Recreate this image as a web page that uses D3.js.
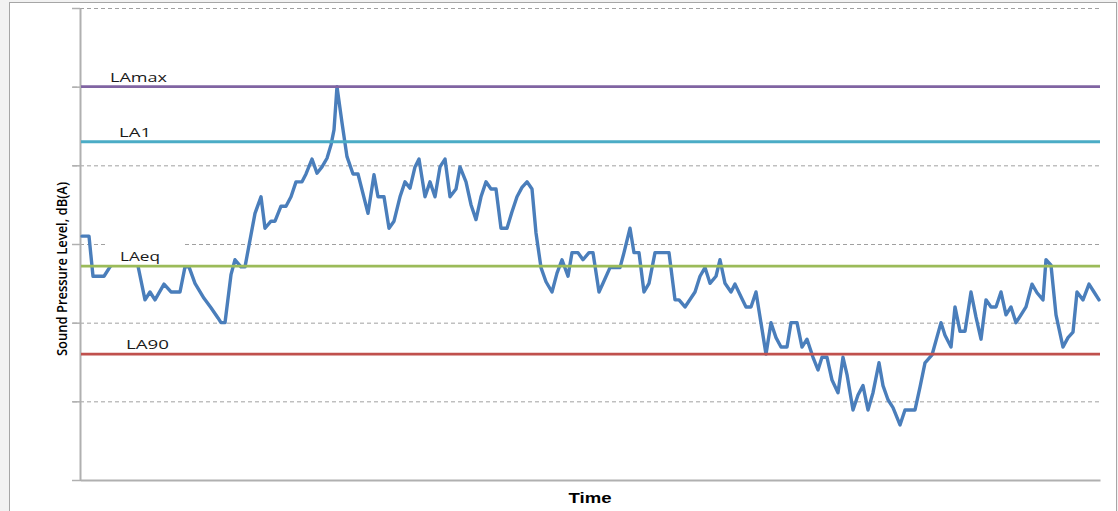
<!DOCTYPE html>
<html>
<head>
<meta charset="utf-8">
<script src="https://cdn.jsdelivr.net/npm/d3@7"></script>
<style>
	body { margin: 0; background: #f2f2f2; }
	svg { display: block; }
</style>
</head>
<body>
<div id="viz"></div>
<script>
// time is in samples, level in dB(A)
const times = [0, 1.4, 2.2, 4.4, 5.6, 8.4, 11.2, 12.6, 13.6, 14.6, 16.4, 17.8, 19.6, 20.6, 21.4, 22.6, 24.4, 25.8, 27.2, 27.8,
	28.6, 29.8, 30.6, 31.8, 32.6, 34.6, 35.8, 36.6, 37.8, 38.6, 39.8, 40.8, 41.8, 42.8, 44.0, 44.8, 46.0, 47.0, 48.0, 49.0,
	49.8, 50.4, 51.0, 52.0, 53.0, 54.2, 55.2, 57.2, 58.4, 59.2, 60.4, 61.4, 62.4, 63.6, 64.6, 65.6, 66.6, 67.4, 68.6, 69.6,
	70.6, 71.6, 72.6, 73.6, 74.8, 75.6, 76.8, 77.8, 78.8, 79.8, 80.8, 81.8, 82.8, 83.8, 85.0, 86.0, 87.0, 88.0, 89.0, 90.0,
	90.8, 91.8, 92.8, 94.0, 95.0, 96.0, 97.2, 98.0, 99.2, 100.2, 101.4, 102.2, 103.4, 104.2, 105.6, 107.6, 108.4, 109.6, 110.4, 111.4,
	112.4, 113.4, 114.6, 117.4, 118.6, 119.4, 120.6, 122.6, 123.6, 124.6, 125.6, 126.8, 127.6, 128.6, 129.8, 130.6, 131.8, 132.8, 133.8, 134.8,
	136.8, 137.8, 138.8, 139.8, 141.0, 141.8, 143.0, 144.0, 145.0, 146.2, 147.2, 148.0, 149.0, 150.0, 151.2, 152.2, 153.0, 154.2, 155.2, 156.2,
	157.2, 158.2, 159.4, 160.2, 161.2, 162.2, 163.6, 164.6, 166.6, 167.6, 168.6, 170.0, 171.8, 172.6, 173.8, 174.6, 175.6, 176.6, 177.8, 178.8,
	179.8, 180.8, 181.8, 182.8, 183.8, 184.8, 185.8, 186.8, 187.8, 188.8, 190.0, 191.0, 192.2, 192.8, 193.8, 194.8, 196.2, 197.2, 198.2, 199.0,
	200.2, 201.4, 202.4, 203.4];

const levels = [61.0, 61.0, 55.9, 55.9, 57.1, 58.6, 57.2, 52.9, 53.9, 52.9, 54.9, 53.9, 53.9, 57.1, 57.1, 55.0, 53.1, 51.9, 50.6, 50.0,
	50.0, 56.1, 58.0, 57.1, 57.1, 63.9, 66.0, 62.0, 62.9, 62.9, 64.8, 64.8, 66.0, 67.9, 67.9, 68.9, 70.8, 69.0, 69.8, 70.9,
	72.6, 74.5, 80.0, 75.4, 71.1, 68.9, 68.9, 63.9, 68.8, 66.0, 66.0, 62.0, 62.9, 66.0, 67.9, 67.1, 69.8, 70.8, 66.0, 67.9,
	66.0, 69.8, 70.8, 66.0, 67.0, 69.8, 67.9, 65.0, 63.1, 66.0, 67.9, 67.0, 67.0, 62.0, 62.0, 64.1, 66.0, 67.2, 67.9, 67.0,
	61.4, 57.0, 55.2, 53.9, 56.3, 58.0, 55.9, 58.9, 58.9, 58.0, 58.9, 58.9, 53.9, 55.0, 57.0, 57.0, 58.9, 62.0, 58.9, 58.9,
	53.9, 55.0, 58.9, 58.9, 52.9, 52.9, 52.0, 53.9, 55.9, 57.0, 55.0, 55.9, 58.0, 55.0, 53.9, 54.9, 53.3, 52.0, 52.0, 53.9,
	46.0, 50.0, 48.1, 46.9, 46.9, 50.0, 50.0, 46.9, 47.9, 45.6, 44.0, 45.6, 45.6, 42.7, 41.1, 45.6, 43.4, 38.9, 40.8, 42.0,
	38.9, 41.1, 44.9, 42.0, 40.2, 39.2, 37.0, 38.9, 38.9, 41.8, 44.9, 45.9, 50.0, 48.4, 46.9, 52.0, 48.9, 48.9, 53.9, 50.7,
	47.9, 52.9, 52.0, 52.0, 53.9, 51.0, 52.0, 50.0, 51.0, 52.0, 54.9, 53.8, 52.9, 58.0, 57.3, 51.0, 46.9, 48.1, 48.8, 53.9,
	52.9, 54.9, 53.9, 52.9];

const refNames = ['LAmax', 'LA1', 'LAeq', 'LA90'];
const refLevels = [80, 73, 57.2, 46];

const gridTicks = [30, 40, 50, 60, 70, 80, 90];

const refColors = { LAmax: '#8064a2', LA1: '#4bacc6', LAeq: '#9bbb59', LA90: '#c0504d' };
const labelWidths = { LAmax: 57, LA1: 32, LAeq: 40, LA90: 43 };
const labelOffsets = { LAmax: 30, LA1: 39, LAeq: 40, LA90: 46 };

let data = times.map((t, i) => ({ t, level: levels[i] }));

let W = 1118, H = 511;
let margin = { top: 8, right: 18, bottom: 31, left: 80 };

let svg = d3.select('#viz').append('svg')
	.attr('width', W)
	.attr('height', H);

// chart frame
svg.append('rect')
	.attr('x', 9.5)
	.attr('y', 2.5)
	.attr('width', 1107)
	.attr('height', 530)
	.attr('fill', '#fff')
	.attr('stroke', '#a6a6a6');

let x = d3.scaleLinear()
	.domain([-0.4, 203.6])
	.range([margin.left, W - margin.right]);

let y = d3.scaleLinear()
	.domain([30, 90])
	.range([H - margin.bottom, margin.top]);

// dashed gridlines
svg.append('g')
	.attr('transform', `translate(${margin.left},0)`)
	.call(d3.axisLeft(y).tickValues(gridTicks).tickSize(-(W - margin.left - margin.right)).tickFormat(''))
	.call(g => g.select('.domain').remove())
	.call(g => g.selectAll('.tick line')
		.attr('stroke', '#a0a0a0')
		.attr('stroke-dasharray', '4,3')
		.attr('x1', -7));

// axes
svg.append('g')
	.attr('transform', `translate(${margin.left},0)`)
	.call(d3.axisLeft(y).tickValues(gridTicks).tickSize(8).tickFormat('').tickSizeOuter(0))
	.call(g => g.select('.domain').attr('stroke', '#b0b0b0').attr('stroke-width', 2))
	.call(g => g.selectAll('.tick line').attr('stroke', '#b0b0b0').attr('stroke-width', 1.5));

svg.append('g')
	.attr('transform', `translate(0,${y(30)})`)
	.call(d3.axisBottom(x).tickValues([]).tickSizeOuter(0))
	.call(g => g.select('.domain').attr('stroke', '#b0b0b0').attr('stroke-width', 2));

let line = d3.line()
	.x(d => x(d.t))
	.y(d => y(d.level));

svg.append('path')
	.datum(data)
	.attr('fill', 'none')
	.attr('stroke', '#4a7ebb')
	.attr('stroke-width', 3.4)
	.attr('stroke-linejoin', 'round')
	.attr('stroke-linecap', 'round')
	.attr('d', line);

// label boxes (white, they hide what is behind the label)
svg.append('g')
	.selectAll('rect')
	.data(refNames)
	.join('rect')
	.attr('x', 108)
	.attr('y', (d, i) => y(refLevels[i]) - 23)
	.attr('width', 75)
	.attr('height', 22)
	.attr('fill', '#fff');

svg.append('g')
	.selectAll('line')
	.data(refNames)
	.join('line')
	.attr('x1', x.range()[0] + 1)
	.attr('x2', x.range()[1])
	.attr('y1', (d, i) => y(refLevels[i]))
	.attr('y2', (d, i) => y(refLevels[i]))
	.attr('stroke', d => refColors[d])
	.attr('stroke-width', 2.8);

svg.append('g')
	.selectAll('text')
	.data(refNames)
	.join('text')
	.text(d => d)
	.attr('x', d => x.range()[0] + labelOffsets[d])
	.attr('y', (d, i) => y(refLevels[i]) - 5)
	.attr('textLength', d => labelWidths[d])
	.attr('lengthAdjust', 'spacingAndGlyphs')
	.attr('font-family', 'Open Sans, sans-serif')
	.attr('font-size', 13)
	.attr('fill', '#1a1a1a');

svg.append('text')
	.text('Sound Pressure Level, dB(A)')
	.attr('transform', `translate(67,269) rotate(-90)`)
	.attr('text-anchor', 'middle')
	.attr('textLength', 174)
	.attr('lengthAdjust', 'spacingAndGlyphs')
	.attr('font-family', 'Open Sans, sans-serif')
	.attr('font-weight', 600)
	.attr('font-size', 15)
	.attr('fill', '#000');

svg.append('text')
	.text('Time')
	.attr('x', 590)
	.attr('y', 503)
	.attr('text-anchor', 'middle')
	.attr('textLength', 43)
	.attr('lengthAdjust', 'spacingAndGlyphs')
	.attr('font-family', 'Liberation Sans, Arial, sans-serif')
	.attr('font-weight', 'bold')
	.attr('font-size', 15)
	.attr('fill', '#000');
</script>
</body>
</html>
